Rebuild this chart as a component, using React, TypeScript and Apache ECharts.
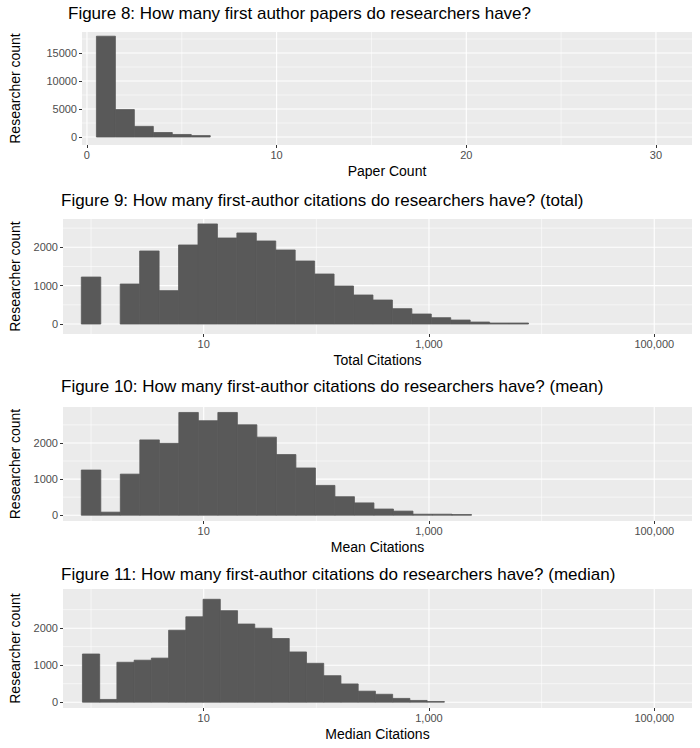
import React, { useEffect, useRef } from "react";
import * as echarts from "echarts";

// figure 8: papers per researcher, bins of width 1 centred on integers
const paperCenters = [1, 2, 3, 4, 5, 6];
const paperCounts = [18000, 4900, 1900, 800, 450, 250];

// figures 9-11: counts per log10 bin, first bin centred on log10 = 0
const totalBinWidth = 0.1726;
const totalCounts = [1225, 0, 1043, 1904, 870, 2061, 2609, 2243, 2374, 2165, 1930, 1643, 1304, 991, 757, 626, 400, 261, 165, 104, 52, 26, 26];
const meanBinWidth = 0.1732;
const meanCounts = [1251, 85, 1137, 2085, 1990, 2844, 2616, 2844, 2502, 2161, 1678, 1308, 825, 512, 341, 171, 114, 28, 28, 19];
const medianBinWidth = 0.153;
const medianCounts = [1302, 74, 1079, 1135, 1191, 1944, 2307, 2781, 2474, 2112, 2000, 1721, 1358, 1051, 716, 493, 298, 214, 102, 47, 19];

const titles = [
  "Figure 8: How many first author papers do researchers have?",
  "Figure 9: How many first-author citations do researchers have? (total)",
  "Figure 10: How many first-author citations do researchers have? (mean)",
  "Figure 11: How many first-author citations do researchers have? (median)",
];
const xNames = ["Paper Count", "Total Citations", "Mean Citations", "Median Citations"];

const paperTicks = [0, 10, 20, 30];
const paperMinor = [5, 15, 25];
const logTicks = [1, 3, 5];
const logMinor = [0, 2, 4];
const paperYTicks = [0, 5000, 10000, 15000];
const paperYMinor = [2500, 7500, 12500, 17500];
const citeYTicks = [0, 1000, 2000];
const citeYMinor = [500, 1500, 2500];

const FONT = "Liberation Sans, Arial, sans-serif";

export default function App() {
  const ref = useRef<HTMLDivElement>(null);

  useEffect(() => {
    if (!ref.current) return;
    document.body.style.margin = "0";
    const chart = echarts.init(ref.current, null, { renderer: "svg" });

    const panels = [
      {
        grid: { left: 80, top: 32, width: 612, height: 113 },
        x: [-0.26, 31.9], y: [-1430, 18750],
        xt: paperTicks, xm: paperMinor, yt: paperYTicks, ym: paperYMinor,
        bars: paperCenters.map((c, i) => [c, paperCounts[i]]), w: 1, log: false, nameGap: 60,
        titleLeft: 63, titleTop: 0,
      },
      {
        grid: { left: 61, top: 219, width: 631, height: 115 },
        x: [-0.249, 5.335], y: [-260, 2738],
        xt: logTicks, xm: logMinor, yt: citeYTicks, ym: citeYMinor,
        bars: totalCounts.map((v, i) => [i * totalBinWidth, v]), w: totalBinWidth, log: true, nameGap: 41,
        titleLeft: 56, titleTop: 187,
      },
      {
        grid: { left: 61, top: 407, width: 631, height: 114 },
        x: [-0.249, 5.335], y: [-160, 2995],
        xt: logTicks, xm: logMinor, yt: citeYTicks, ym: citeYMinor,
        bars: meanCounts.map((v, i) => [i * meanBinWidth, v]), w: meanBinWidth, log: true, nameGap: 41,
        titleLeft: 56, titleTop: 373,
      },
      {
        grid: { left: 61, top: 589, width: 631, height: 119 },
        x: [-0.249, 5.335], y: [-157, 3059],
        xt: logTicks, xm: logMinor, yt: citeYTicks, ym: citeYMinor,
        bars: medianCounts.map((v, i) => [i * medianBinWidth, v]), w: medianBinWidth, log: true, nameGap: 41,
        titleLeft: 56, titleTop: 561,
      },
    ];

    const series: any[] = [];
    panels.forEach((p, gi) => {
      const lines: number[][] = [];
      p.xm.forEach((v) => lines.push([0, v, 0]));
      p.ym.forEach((v) => lines.push([1, v, 0]));
      p.xt.forEach((v) => lines.push([0, v, 1]));
      p.yt.forEach((v) => lines.push([1, v, 1]));
      series.push({
        type: "custom",
        xAxisIndex: gi,
        yAxisIndex: gi,
        silent: true,
        clip: false,
        z: 1,
        data: lines,
        encode: { x: -1, y: -1 },
        renderItem: (params: any, api: any) => {
          const isX = api.value(0) === 0;
          const v = api.value(1);
          const a = isX ? api.coord([v, p.y[0]]) : api.coord([p.x[0], v]);
          const b = isX ? api.coord([v, p.y[1]]) : api.coord([p.x[1], v]);
          return {
            type: "line",
            shape: { x1: a[0], y1: a[1], x2: b[0], y2: b[1] },
            style: { stroke: "#ffffff", lineWidth: api.value(2) ? 1.1 : 0.55 },
          };
        },
      });
      series.push({
        type: "custom",
        xAxisIndex: gi,
        yAxisIndex: gi,
        z: 2,
        data: p.bars.filter((d) => d[1] > 0),
        encode: { x: 0, y: 1 },
        renderItem: (params: any, api: any) => {
          const c = api.value(0);
          const tl = api.coord([c - p.w / 2, api.value(1)]);
          const br = api.coord([c + p.w / 2, 0]);
          return {
            type: "rect",
            shape: { x: tl[0], y: tl[1], width: br[0] - tl[0], height: br[1] - tl[1] },
            style: { fill: "#595959", stroke: "#595959", lineWidth: 0.8 },
          };
        },
      });
    });

    const tickStyle = { show: true, length: 3, lineStyle: { color: "#333333", width: 1 } };
    const labelStyle = { color: "#4d4d4d", fontSize: 11, fontFamily: FONT };

    chart.setOption({
      animation: false,
      title: panels.map((p, i) => ({
        text: titles[i],
        left: p.titleLeft,
        top: p.titleTop,
        textStyle: { fontSize: 17, fontWeight: "normal", color: "#000", fontFamily: FONT },
      })),
      grid: panels.map((p) => ({ ...p.grid, show: true, backgroundColor: "#ebebeb", borderWidth: 0 })),
      xAxis: panels.map((p, i) => ({
        type: "value",
        gridIndex: i,
        min: p.x[0],
        max: p.x[1],
        name: xNames[i],
        nameLocation: "middle",
        nameGap: 19,
        nameTextStyle: { color: "#000", fontSize: 14, fontFamily: FONT },
        axisLine: { show: false, onZero: false },
        splitLine: { show: false },
        axisTick: { ...tickStyle, customValues: p.xt },
        axisLabel: {
          ...labelStyle,
          margin: 4,
          customValues: p.xt,
          formatter: (v: number) => (p.log ? Math.round(Math.pow(10, v)).toLocaleString("en-US") : String(v)),
        },
      })),
      yAxis: panels.map((p, i) => ({
        type: "value",
        gridIndex: i,
        min: p.y[0],
        max: p.y[1],
        name: "Researcher count",
        nameLocation: "middle",
        nameRotate: 90,
        nameGap: p.nameGap,
        nameTextStyle: { color: "#000", fontSize: 14, fontFamily: FONT },
        axisLine: { show: false, onZero: false },
        splitLine: { show: false },
        axisTick: { ...tickStyle, customValues: p.yt },
        axisLabel: { ...labelStyle, margin: 5, customValues: p.yt, formatter: (v: number) => String(v) },
      })),
      series,
    });

    return () => chart.dispose();
  }, []);

  return <div ref={ref} style={{ width: 700, height: 748 }} />;
}
